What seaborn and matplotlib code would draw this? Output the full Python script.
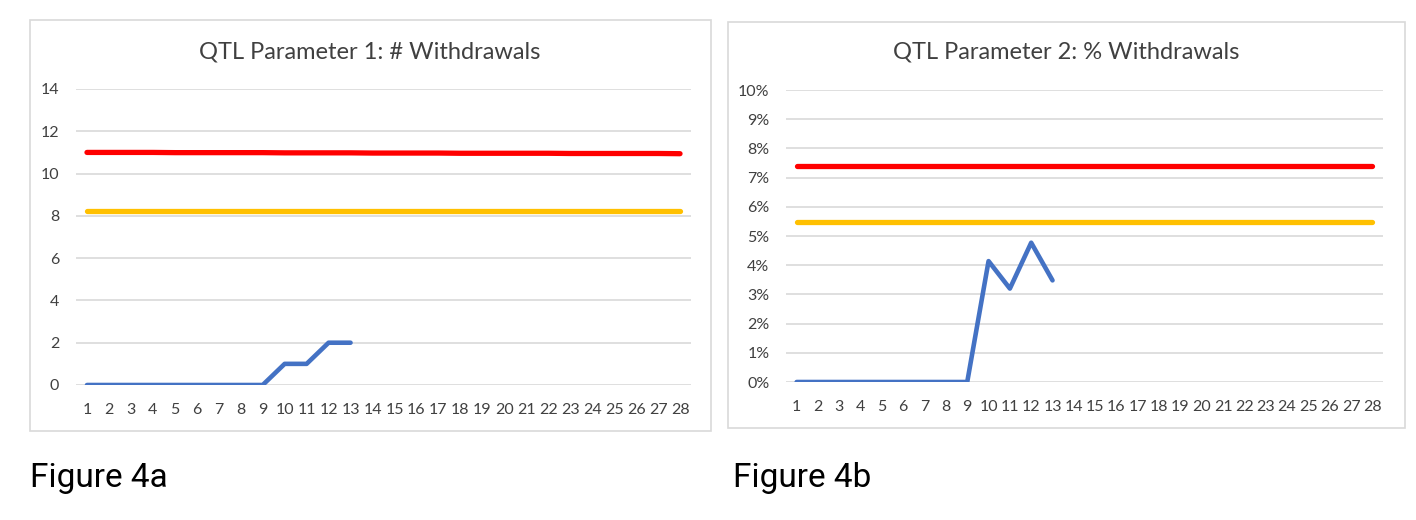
import numpy as np
import pandas as pd
import seaborn as sns
import matplotlib.pyplot as plt
from matplotlib.patches import Rectangle
from matplotlib.ticker import PercentFormatter

# dados
weeks = list(range(1, 29))

# Parametro 1: numero de retiradas
withdrawals_n = [0, 0, 0, 0, 0, 0, 0, 0, 0, 1, 1, 2, 2]
red_limit_n = [11.00, 11.00, 11.00, 11.00, 10.99, 10.99, 10.99, 10.99, 10.99, 10.98,
               10.98, 10.98, 10.98, 10.97, 10.97, 10.97, 10.97, 10.96, 10.96, 10.96,
               10.96, 10.96, 10.95, 10.95, 10.95, 10.95, 10.95, 10.94]
orange_limit_n = [8.23] * 28

# Parametro 2: percentual de retiradas
withdrawals_pct = [0, 0, 0, 0, 0, 0, 0, 0, 0, 0.0414, 0.0320, 0.0477, 0.0348]
red_limit_pct = [0.0741] * 28
orange_limit_pct = [0.0548] * 28

sns.set_style("white")
plt.rcParams['font.family'] = ['Lato', 'DejaVu Sans']

BLUE = "#4472C4"
RED = "#FF0000"
ORANGE = "#FFC000"
GRID = "#D9D9D9"

fig = plt.figure(figsize=(14.16, 5.2), dpi=100)
W, H = 1416, 520

def px_axes(x0, y0, x1, y1):
    return fig.add_axes([x0 / W, 1 - y1 / H, (x1 - x0) / W, (y1 - y0) / H])

# moldura dos paineis
for (x0, y0, x1, y1) in [(30, 20, 711, 431), (728, 22, 1405, 428)]:
    fig.patches.append(Rectangle((x0 / W, 1 - y1 / H), (x1 - x0) / W, (y1 - y0) / H,
                                 transform=fig.transFigure, fill=False,
                                 edgecolor="#D9D9D9", linewidth=1.2))

ax1 = px_axes(76, 89, 691, 385)
ax2 = px_axes(786, 90, 1383, 382)

def plot_panel(ax, y_main, y_red, y_orange):
    n = len(y_main)
    df = pd.DataFrame({"week": weeks, "red": y_red, "orange": y_orange})
    dm = pd.DataFrame({"week": weeks[:n], "val": y_main})
    sns.lineplot(data=df, x="week", y="red", ax=ax, color=RED, linewidth=3.8)
    sns.lineplot(data=df, x="week", y="orange", ax=ax, color=ORANGE, linewidth=3.8)
    sns.lineplot(data=dm, x="week", y="val", ax=ax, color=BLUE, linewidth=3.3,
                 solid_capstyle="round")
    ax.set_xlim(0.5, 28.5)
    ax.set_xticks(weeks)
    ax.set_xticklabels([str(w) for w in weeks])
    ax.set_xlabel("")
    ax.set_ylabel("")
    ax.grid(axis="y", color=GRID, linewidth=1.2)
    ax.set_axisbelow(True)
    for s in ax.spines.values():
        s.set_visible(False)
    ax.tick_params(axis="both", length=0, labelsize=11.5, colors="#404040")
    ax.tick_params(axis="y", pad=12)
    ax.tick_params(axis="x", pad=13)

plot_panel(ax1, withdrawals_n, red_limit_n, orange_limit_n)
ax1.set_ylim(0, 14)
ax1.set_yticks(range(0, 15, 2))

plot_panel(ax2, withdrawals_pct, red_limit_pct, orange_limit_pct)
ax2.set_ylim(0, 0.10)
ax2.set_yticks(np.arange(0, 0.101, 0.01))
ax2.yaxis.set_major_formatter(PercentFormatter(1.0, decimals=0))

# titulos centrados na moldura de cada painel
fig.text(370 / W, 1 - 52 / H, "QTL Parameter 1: # Withdrawals", fontsize=17,
         color="#404040", ha="center", va="center")
fig.text(1066 / W, 1 - 52 / H, "QTL Parameter 2: % Withdrawals", fontsize=17,
         color="#404040", ha="center", va="center")

fig.text(30 / W, 1 - 478 / H, "Figure 4a", fontsize=24, family=["Roboto", "DejaVu Sans"],
         va="center", ha="left", color="black")
fig.text(733 / W, 1 - 478 / H, "Figure 4b", fontsize=24, family=["Roboto", "DejaVu Sans"],
         va="center", ha="left", color="black")

fig.savefig("out.png", dpi=100, facecolor="white")
